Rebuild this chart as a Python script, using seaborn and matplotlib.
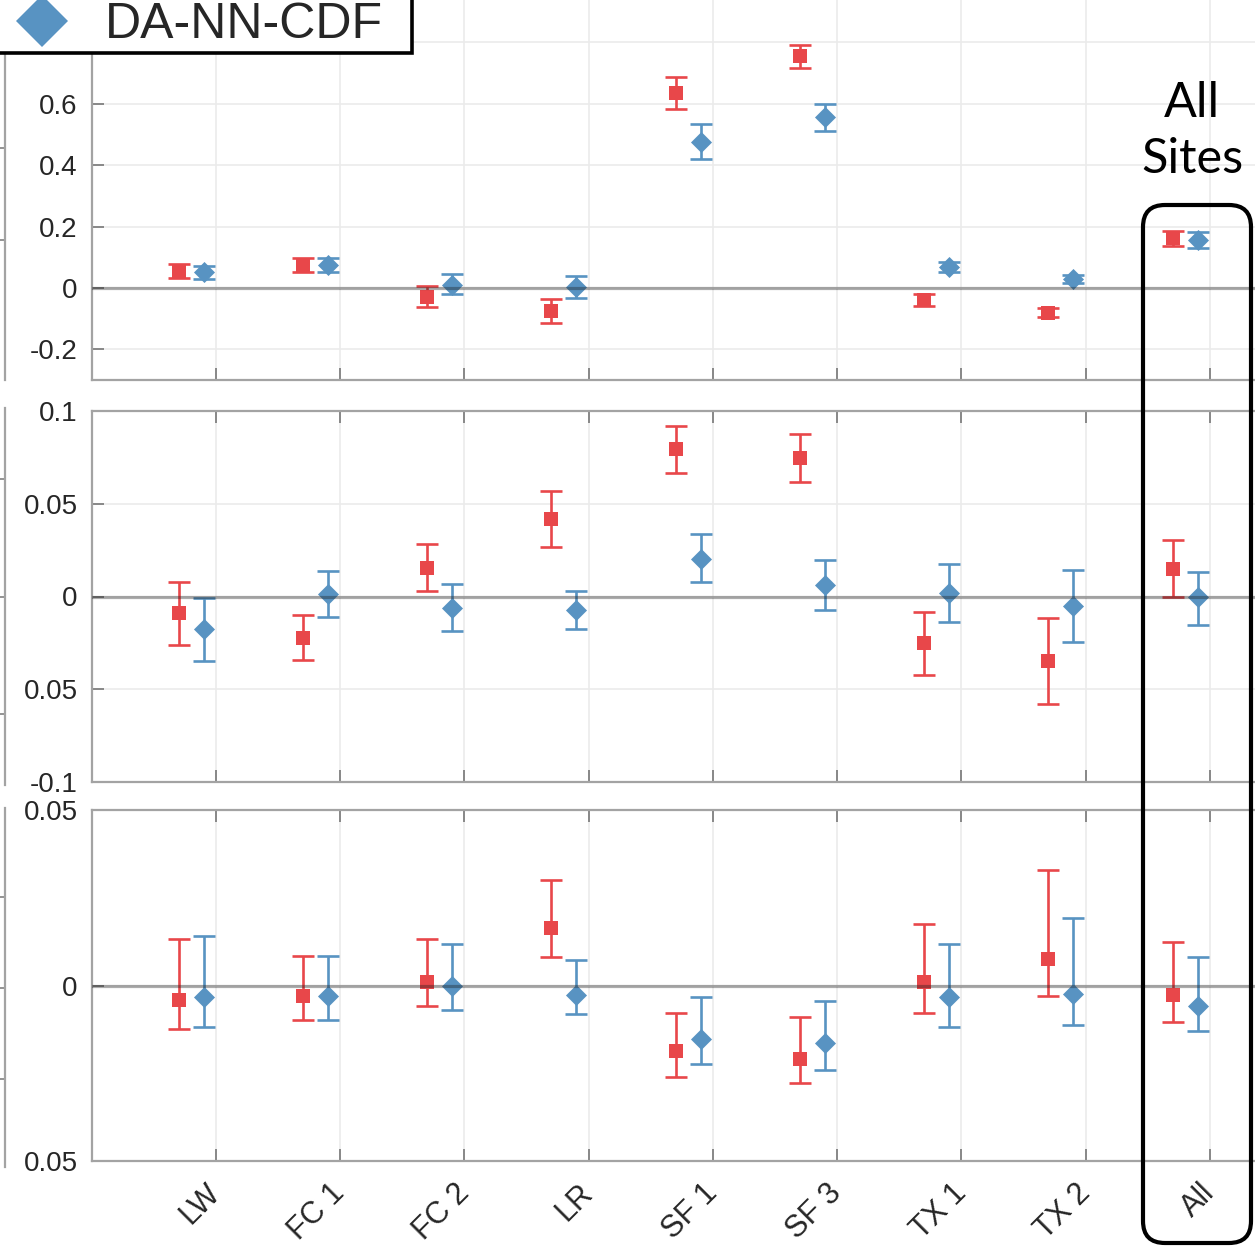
import seaborn as sns
import matplotlib.pyplot as plt
import pandas as pd
import numpy as np
from matplotlib.lines import Line2D
from matplotlib.patches import FancyBboxPatch
from matplotlib.transforms import ScaledTranslation

# ---- data ----
sites = ['LW', 'FC 1', 'FC 2', 'LR', 'SF 1', 'SF 3', 'TX 1', 'TX 2', 'All']

# top panel
top_red = [0.055, 0.075, -0.029, -0.075, 0.635, 0.756, -0.039, -0.081, 0.163]
top_red_lo = [0.033, 0.052, -0.061, -0.115, 0.583, 0.717, -0.059, -0.095, 0.137]
top_red_hi = [0.078, 0.098, 0.006, -0.035, 0.687, 0.790, -0.020, -0.066, 0.186]
top_blue = [0.052, 0.075, 0.010, 0.003, 0.476, 0.557, 0.068, 0.029, 0.156]
top_blue_lo = [0.029, 0.052, -0.020, -0.034, 0.420, 0.511, 0.052, 0.017, 0.130]
top_blue_hi = [0.072, 0.098, 0.045, 0.040, 0.534, 0.600, 0.085, 0.042, 0.182]

# middle panel
mid_red = [-0.0088, -0.0222, 0.0154, 0.0419, 0.0796, 0.0749, -0.0253, -0.0348, 0.0150]
mid_red_lo = [-0.0262, -0.0344, 0.0027, 0.0269, 0.0668, 0.0618, -0.0423, -0.0579, -0.0002]
mid_red_hi = [0.0079, -0.0102, 0.0285, 0.0570, 0.0921, 0.0876, -0.0082, -0.0117, 0.0304]
mid_blue = [-0.0174, 0.0014, -0.0061, -0.0072, 0.0204, 0.0063, 0.0020, -0.0050, -0.0005]
mid_blue_lo = [-0.0348, -0.0108, -0.0188, -0.0177, 0.0077, -0.0075, -0.0136, -0.0246, -0.0154]
mid_blue_hi = [-0.0007, 0.0140, 0.0066, 0.0031, 0.0339, 0.0195, 0.0177, 0.0145, 0.0132]

# bottom panel
bot_red = [-0.0041, -0.0031, 0.0009, 0.0163, -0.0188, -0.0209, 0.0011, 0.0076, -0.0026]
bot_red_lo = [-0.0125, -0.0097, -0.0059, 0.0081, -0.0261, -0.0279, -0.0078, -0.0030, -0.0105]
bot_red_hi = [0.0132, 0.0085, 0.0133, 0.0301, -0.0078, -0.0091, 0.0175, 0.0330, 0.0125]
bot_blue = [-0.0033, -0.0031, -0.0002, -0.0027, -0.0152, -0.0164, -0.0034, -0.0024, -0.0057]
bot_blue_lo = [-0.0119, -0.0097, -0.0069, -0.0081, -0.0225, -0.0241, -0.0117, -0.0113, -0.0131]
bot_blue_hi = [0.0140, 0.0083, 0.0118, 0.0073, -0.0034, -0.0044, 0.0119, 0.0192, 0.0080]

top_ticks = [-0.2, 0, 0.2, 0.4, 0.6, 0.8]
top_ticklabels = ['-0.2', '0', '0.2', '0.4', '0.6', '0.8']
mid_ticks = [-0.1, -0.05, 0, 0.05, 0.1]
mid_ticklabels = ['-0.1', '0.05', '0', '0.05', '0.1']
bot_ticks = [-0.05, 0, 0.05]
bot_ticklabels = ['0.05', '0', '0.05']

RED = '#e8474a'
BLUE = '#5893c2'

sns.set_theme(style='white')
plt.rcParams['font.family'] = ['Liberation Sans', 'DejaVu Sans']

W, H = 1255, 1246
fig = plt.figure(figsize=(W / 100, H / 100), dpi=100)


def px_axes(left, top, right, bottom):
    # axes placed with pixel edges (origin top-left)
    return fig.add_axes([left / W, 1 - bottom / H, (right - left) / W, (bottom - top) / H])


def draw_panel(ax, red, red_lo, red_hi, blue, blue_lo, blue_hi, ylim, yticks, ylabels, xlabels):
    pos = np.arange(1, len(sites) + 1)
    red, red_lo, red_hi = map(np.array, (red, red_lo, red_hi))
    blue, blue_lo, blue_hi = map(np.array, (blue, blue_lo, blue_hi))

    ax.errorbar(pos - 0.3, red, yerr=[red - red_lo, red_hi - red], fmt='none',
                ecolor=RED, elinewidth=1.9, capsize=7.8, capthick=1.9, zorder=2)
    ax.errorbar(pos - 0.1, blue, yerr=[blue - blue_lo, blue_hi - blue], fmt='none',
                ecolor=BLUE, elinewidth=1.9, capsize=7.8, capthick=1.9, zorder=2)

    df_r = pd.DataFrame({'x': pos - 0.3, 'value': red})
    df_b = pd.DataFrame({'x': pos - 0.1, 'value': blue})
    sns.scatterplot(data=df_r, x='x', y='value', marker='s', s=95, color=RED,
                    linewidth=0, ax=ax, zorder=3)
    sns.scatterplot(data=df_b, x='x', y='value', marker='D', s=115, color=BLUE,
                    linewidth=0, ax=ax, zorder=3)

    ax.axhline(0, color='k', alpha=0.36, lw=2.3, zorder=4)

    ax.set_xlim(0, 10)
    ax.set_ylim(*ylim)
    ax.set_xticks(pos)
    ax.set_yticks(yticks)
    ax.set_yticklabels(ylabels)
    if xlabels:
        ax.set_xticklabels(sites, rotation=45, ha='right', va='center',
                           rotation_mode='anchor', fontsize=22)
        shift = ScaledTranslation(-0.12, 0, fig.dpi_scale_trans)
        for lab in ax.get_xticklabels():
            lab.set_transform(lab.get_transform() + shift)
    else:
        ax.set_xticklabels([])
    ax.set_xlabel('')
    ax.set_ylabel('')
    ax.grid(True, color='#ebebeb', lw=1.2)
    ax.set_axisbelow(True)
    ax.tick_params(direction='in', length=8.5, width=1.3, color='#808080',
                   top=True, bottom=True, left=True, right=False,
                   labelcolor='#262626', pad=10)
    ax.tick_params(axis='y', labelsize=20)
    ax.tick_params(axis='x', pad=20)
    for side in ['left', 'bottom', 'top']:
        ax.spines[side].set_color('#a3a3a3')
        ax.spines[side].set_linewidth(1.6)
    ax.spines['right'].set_visible(False)


ax1 = px_axes(91.75, -19, 91.75 + 1242.5, 380)
ax2 = px_axes(91.75, 411, 91.75 + 1242.5, 782)
ax3 = px_axes(91.75, 810, 91.75 + 1242.5, 1161)

draw_panel(ax1, top_red, top_red_lo, top_red_hi, top_blue, top_blue_lo, top_blue_hi,
           (-0.3, 1.0), top_ticks, top_ticklabels, False)
draw_panel(ax2, mid_red, mid_red_lo, mid_red_hi, mid_blue, mid_blue_lo, mid_blue_hi,
           (-0.1, 0.1), mid_ticks, mid_ticklabels, False)
draw_panel(ax3, bot_red, bot_red_lo, bot_red_hi, bot_blue, bot_blue_lo, bot_blue_hi,
           (-0.05, 0.05), bot_ticks, bot_ticklabels, True)

# edges of the neighbouring (cropped) panels on the far left
for top, bottom, ticks in [(-5, 380, [148, 240]), (408, 785, [479, 597, 714]),
                           (808, 1167, [897, 988, 1079])]:
    a = px_axes(-100, top, 5, bottom)
    a.set_facecolor('none')
    a.set_xlim(0, 1)
    a.set_ylim(bottom, top)
    a.set_xticks([])
    a.set_yticks(ticks)
    a.tick_params(axis='y', direction='in', length=7, width=1.2, color='#808080',
                  left=False, right=True, labelleft=False, labelright=False)
    for side in ['left', 'top', 'bottom']:
        a.spines[side].set_visible(False)
    a.spines['right'].set_color('#a3a3a3')
    a.spines['right'].set_linewidth(1.6)

# legend (top part cropped by figure edge)
handle = Line2D([], [], marker='D', color=BLUE, ls='none', markersize=26, markeredgewidth=0)
leg = fig.legend([handle], ['DA-NN-CDF'], loc='lower left',
                 bbox_to_anchor=(-10 / W, 1 - 53 / H, 422 / W, 0.05), mode='expand',
                 borderaxespad=0, borderpad=0.1, handlelength=1.88, handletextpad=0.32,
                 fontsize=36, frameon=True, fancybox=False, framealpha=1)
leg.get_frame().set_edgecolor('black')
leg.get_frame().set_linewidth(2.6)

# "All Sites" highlight box
box = FancyBboxPatch((1143 / 100, 3 / 100), 108 / 100, 1038 / 100,
                     boxstyle='round,pad=0,rounding_size=0.22',
                     transform=fig.dpi_scale_trans, fill=False, ec='black', lw=3,
                     zorder=10)
fig.patches.append(box)
fig.text(1192 / W, 1 - 131 / H, 'All\nSites', ha='center', va='center',
         fontsize=35, linespacing=1.33, family=['Lato', 'DejaVu Sans'], color='black')

fig.savefig('out.png', dpi=100)
